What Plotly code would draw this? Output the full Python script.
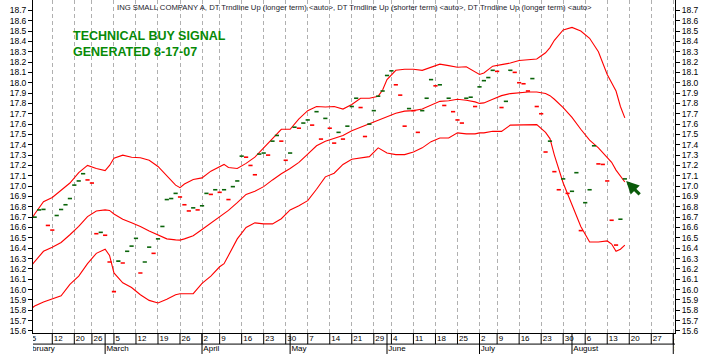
import plotly.graph_objects as go

# x positions are trading-day indices: 0 = Mon 12 Feb 2007 (weekends/holidays skipped)
close_first_day = -4
close = [
    16.70, 16.77, 16.775, 16.62, 16.575, 16.716, 16.774, 16.82, 16.88, 17.01,   # -4..5
    17.05, 17.12, 17.06, 17.03, 16.54, 16.553, 16.525, 16.266, 15.98, 16.275,   # 6..15
    16.256, 16.37, 16.42, 16.495, 16.16, 16.266, 16.41, 16.35, 16.49, 16.61,    # 16..25
    16.87, 16.88, 16.93, 16.895, 16.82, 16.76, 16.79, 16.77, 16.81, 16.93,      # 26..35
    16.92, 16.965, 16.94, 16.965, 16.87, 16.995, 17.05, 17.29, 17.28, 17.20,    # 36..45
    17.11, 17.31, 17.32, 17.30, 17.435, 17.49, 17.435, 17.25, 17.32, 17.57,     # 46..55
    17.56, 17.61, 17.64, 17.59, 17.72, 17.455, 17.655, 17.56, 17.416, 17.52,    # 56..65
    17.455, 17.58, 17.77, 17.85, 17.76, 17.48, 17.60, 17.73, 17.87, 17.92,      # 66..75
    18.07, 18.115, 17.98, 17.88, 17.58, 17.75, 17.73, 17.52, 17.73, 17.85,      # 76..85
    18.03, 17.97, 17.98, 17.78, 17.85, 17.72, 17.64, 17.61, 17.85, 17.86,       # 86..95
    17.77, 17.96, 18.02, 18.05, 18.12, 18.11, 17.76, 17.82, 18.12, 18.10,       # 96..105
    18.00, 17.99, 17.92, 18.04, 17.77, 17.70, 17.33, 17.435, 17.14, 16.965,     # 106..115
    17.07, 16.93, 16.95, 17.13, 16.57, 16.84, 16.965, 17.39, 17.215, 17.21,     # 116..125
    17.05, 16.67, 16.43, 16.68, 17.07,                                          # 126..130
]
close_days = list(range(close_first_day, close_first_day + len(close)))

band_days = [-5, -4, -2, 0, 2, 4, 6, 8, 10, 12, 13, 14, 16, 18, 20, 22, 24, 26, 28, 29,
             30, 32, 34, 36, 38, 39, 40, 42, 44, 46, 48, 50, 52, 54, 56, 58, 60, 62, 64, 66,
             68, 70, 72, 74, 75, 76, 78, 80, 82, 84, 86, 88, 90, 92, 94, 96, 97, 98, 100, 102,
             104, 106, 108, 110, 112, 113, 114, 116, 118, 120, 122, 124, 126, 127, 128, 129, 130]
upper = [16.66, 16.73, 16.85, 16.89, 16.96, 17.03, 17.13, 17.20, 17.17, 17.15, 17.20, 17.27, 17.30, 17.28, 17.275, 17.25, 17.19, 17.10, 17.01, 16.985,
         17.02, 17.065, 17.08, 17.145, 17.19, 17.21, 17.18, 17.17, 17.22, 17.28, 17.37, 17.46, 17.55, 17.55, 17.65, 17.73, 17.77, 17.765, 17.77, 17.745,
         17.79, 17.85, 17.85, 17.87, 17.93, 18.03, 18.12, 18.13, 18.13, 18.12, 18.15, 18.18, 18.165, 18.15, 18.155, 18.11, 18.08, 18.095, 18.16, 18.175,
         18.19, 18.215, 18.22, 18.23, 18.29, 18.34, 18.41, 18.51, 18.535, 18.50, 18.43, 18.30, 18.08, 18.00, 17.92, 17.77, 17.66]
middle = [16.22, 16.27, 16.37, 16.41, 16.455, 16.53, 16.61, 16.705, 16.76, 16.77, 16.765, 16.73, 16.68, 16.645, 16.61, 16.565, 16.525, 16.49, 16.48, 16.478,
          16.49, 16.52, 16.58, 16.64, 16.70, 16.73, 16.765, 16.84, 16.92, 16.95, 16.995, 17.06, 17.12, 17.17, 17.23, 17.31, 17.39, 17.435, 17.46, 17.49,
          17.535, 17.57, 17.605, 17.635, 17.655, 17.675, 17.705, 17.725, 17.73, 17.745, 17.785, 17.82, 17.825, 17.84, 17.83, 17.815, 17.80, 17.805, 17.84, 17.875,
          17.895, 17.905, 17.91, 17.91, 17.895, 17.875, 17.84, 17.76, 17.665, 17.55, 17.445, 17.37, 17.28, 17.23, 17.155, 17.10, 17.04]
lower = [15.81, 15.84, 15.88, 15.91, 15.94, 16.05, 16.13, 16.25, 16.35, 16.39, 16.33, 16.16, 16.065, 16.02, 15.95, 15.895, 15.87, 15.905, 15.95, 15.96,
         15.96, 15.96, 16.06, 16.13, 16.22, 16.25, 16.33, 16.49, 16.60, 16.645, 16.635, 16.635, 16.685, 16.77, 16.81, 16.86, 16.97, 17.09, 17.125, 17.21,
         17.26, 17.27, 17.285, 17.37, 17.345, 17.32, 17.305, 17.305, 17.33, 17.37, 17.43, 17.465, 17.465, 17.515, 17.505, 17.505, 17.515, 17.515, 17.53, 17.53,
         17.59, 17.59, 17.59, 17.595, 17.52, 17.46, 17.30, 17.03, 16.82, 16.61, 16.46, 16.46, 16.47, 16.44, 16.37, 16.39, 16.43]

week_days = [-5, 0, 5, 9, 14, 19, 24, 29, 34, 38, 43, 48, 53, 58, 63, 68, 73, 77, 82, 87,
             92, 97, 101, 106, 111, 116, 121, 126, 131, 136, 141]
week_labels = ["5", "12", "20", "26", "5", "12", "19", "26", "2", "9", "16", "23", "30", "7", "14", "21",
               "29", "4", "11", "18", "25", "2", "9", "16", "23", "30", "6", "13", "20", "27", "4"]
month_days = [-7, 12, 34, 54, 76, 97, 118, 141]
month_labels = ["February", "March", "April", "May", "June", "July", "August", "September"]
price_ticks = [15.6, 15.7, 15.8, 15.9, 16.0, 16.1, 16.2, 16.3, 16.4, 16.5, 16.6, 16.7, 16.8, 16.9,
               17.0, 17.1, 17.2, 17.3, 17.4, 17.5, 17.6, 17.7, 17.8, 17.9, 18.0, 18.1, 18.2, 18.3,
               18.4, 18.5, 18.6, 18.7]
signal_day = 130
signal_price = 17.05
title_text = ("ING SMALL COMPANY A, DT Trndline Up (longer term) <auto>, "
              "DT Trndline Up (shorter term) <auto>, DT Trndline Up (longer term) <auto>")
signal_text = "<b>TECHNICAL BUY SIGNAL<br>GENERATED 8-17-07</b>"

W, H = 708, 357
ML, MR = 33, 33
BOTTOM_ROWS = 21
X_RANGE = [-4.38, 141.39]
Y_RANGE = [15.578, 18.80]
UP, DOWN, BAND = "#0a640a", "#ff0000", "#ff0000"
FONT = "Arial, Liberation Sans, sans-serif"

fig = go.Figure()
for vals in (upper, middle, lower):
    fig.add_trace(go.Scatter(x=band_days, y=vals, mode="lines",
                             line=dict(color=BAND, width=1.1), hoverinfo="skip"))

colors = [UP if i == 0 or v >= close[i - 1] else DOWN for i, v in enumerate(close)]
fig.add_trace(go.Scatter(x=close_days, y=close, mode="markers",
                         marker=dict(symbol="line-ew", size=3, color=colors,
                                     line=dict(width=1.6, color=colors))))
fig.add_trace(go.Scatter(x=[None], y=[None], yaxis="y2", mode="markers"))

# bottom date rows (separate subplot so labels clip at the plot edges)
wx, wy = [], []
for d in week_days:
    wx += [d, d, None]
    wy += [21, 10, None]
fig.add_trace(go.Scatter(x=wx, y=wy, mode="lines", line=dict(color="black", width=1),
                         xaxis="x2", yaxis="y3", hoverinfo="skip"))
mx, my = [], []
for d in month_days:
    mx += [d, d, None]
    my += [21, 0, None]
fig.add_trace(go.Scatter(x=mx, y=my, mode="lines", line=dict(color="black", width=1),
                         xaxis="x2", yaxis="y3", hoverinfo="skip"))
fig.add_trace(go.Scatter(x=X_RANGE, y=[10, 10], mode="lines", line=dict(color="black", width=1),
                         xaxis="x2", yaxis="y3", hoverinfo="skip"))
fig.add_trace(go.Scatter(x=[d + 0.35 for d in week_days], y=[15.5] * len(week_days),
                         text=week_labels, mode="text", textposition="middle right",
                         textfont=dict(family=FONT, size=8, color="black"),
                         xaxis="x2", yaxis="y3", cliponaxis=True))
fig.add_trace(go.Scatter(x=[d + 0.3 for d in month_days], y=[5] * len(month_days),
                         text=month_labels, mode="text", textposition="middle right",
                         textfont=dict(family=FONT, size=8, color="black"),
                         xaxis="x2", yaxis="y3", cliponaxis=True))

yaxis_common = dict(range=Y_RANGE, tickmode="array", tickvals=price_ticks,
                    ticktext=[f"{v:.1f}" for v in price_ticks],
                    ticks="outside", ticklen=4, tickcolor="black", tickwidth=1,
                    showline=True, linecolor="black", linewidth=1, showgrid=False, zeroline=False,
                    tickfont=dict(family=FONT, size=8.5, color="black"))

fig.update_layout(
    width=W, height=H, margin=dict(l=ML, r=MR, t=0, b=0, pad=0),
    paper_bgcolor="white", plot_bgcolor="white", showlegend=False,
    xaxis=dict(domain=[0, 1], range=X_RANGE, tickvals=week_days, showticklabels=False, ticks="",
               showgrid=True, gridcolor="#b0b0b0", griddash="4px,3px", gridwidth=1,
               showline=True, linecolor="black", linewidth=1, zeroline=False, anchor="y"),
    yaxis=dict(domain=[BOTTOM_ROWS / H, 1], anchor="x", side="left", **yaxis_common),
    yaxis2=dict(overlaying="y", anchor="x", side="right", **yaxis_common),
    xaxis2=dict(domain=[0, 1], range=X_RANGE, visible=False, anchor="y3", fixedrange=True),
    yaxis3=dict(domain=[0, BOTTOM_ROWS / H], range=[0, 21], visible=False, anchor="x2"),
)

fig.add_annotation(text=title_text, xref="paper", yref="paper", x=0.5, y=1 - 7.5 / H,
                   xanchor="center", yanchor="middle", showarrow=False,
                   font=dict(family="Arial, Liberation Sans", size=7.7, color="#1c1c2c"))
fig.add_annotation(text=signal_text, xref="paper", yref="paper", x=(71 - ML) / (W - ML - MR),
                   y=1 - 44.5 / H, xanchor="left", yanchor="middle", align="left", showarrow=False,
                   font=dict(family="Arial, Liberation Sans", size=12.5, color="#078a07"))
fig.add_annotation(x=signal_day + 0.3, y=signal_price, xref="x", yref="y", text="",
                   showarrow=True, ax=15, ay=15, arrowhead=2, arrowsize=0.8, arrowwidth=3.2,
                   arrowcolor="#0a5a0a")

fig.write_html("out.html", config={"displayModeBar": False},
               post_script="document.body.style.margin='0';document.body.style.overflow='hidden';")
